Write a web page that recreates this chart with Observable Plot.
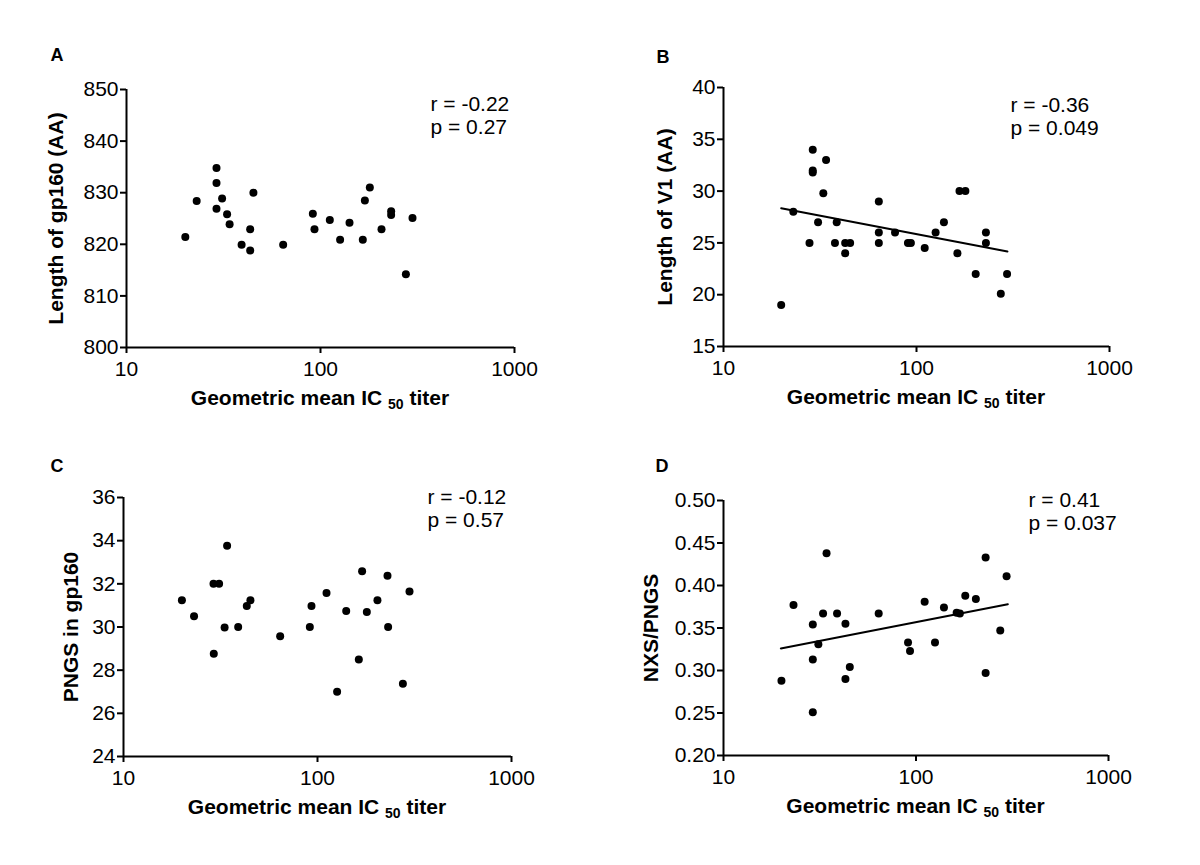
<!DOCTYPE html>
<html><head><meta charset="utf-8">
<script src="https://cdn.jsdelivr.net/npm/d3@7"></script>
<script src="https://cdn.jsdelivr.net/npm/@observablehq/plot@0.6"></script>
<style>
body{margin:0;background:#fff;}
#wrap{position:relative;width:1200px;height:865px;overflow:hidden;background:#fff;}
.panel{position:absolute;}
</style></head><body><div id="wrap"></div>
<script>
// ---------- data ----------
const xTicks = [10, 100, 1000];

const titerA = [20.1,23.0,29.1,29.1,29.1,31.1,33.0,34.0,39.2,43.4,43.4,45.1,64.2,91.3,93.1,111.7,126.2,141.1,165.2,169.3,179.6,206.3,231.3,231.3,275.5,298];
const lengthGp160 = [821.4,828.4,834.8,831.9,826.9,828.9,825.8,823.9,819.9,822.9,818.8,830.0,819.9,825.9,822.9,824.7,820.9,824.2,820.9,828.5,831.0,822.9,826.4,825.7,814.2,825.1];
const ticksA = [800,810,820,830,840,850];

const titerB = [19.9,23.0,27.9,29.0,29.0,29.0,30.9,32.9,34.0,37.8,38.6,42.7,42.7,45.3,63.8,63.8,63.8,77.4,90.3,93.5,110.3,125.6,138.7,162.9,167,179.2,202.6,228.9,228.9,273.4,294.6];
const lengthV1 = [19,28,25,34,32,31.8,27,29.8,33,25,27,24,25,25,29,26,25,26,25,25,24.5,26,27,24,30,30,22,26,25,20.1,22];
const ticksB = [15,20,25,30,35,40];
const fitBx = [19.9, 296];
const fitBy = [28.35, 24.16];

const titerC = [20.0,23.1,29.1,31.1,29.2,34.2,33.2,39.0,43.2,45.1,64.2,91.3,93.1,111.3,126.2,140.6,163.3,169.8,179.6,203.7,229.5,231.2,275.5,298];
const pngs = [31.24,30.5,32.0,32.0,28.76,33.77,29.98,30.0,30.97,31.24,29.57,30.0,30.97,31.58,27.0,30.74,28.5,32.58,30.7,31.24,32.38,30.0,27.37,31.64];
const ticksC = [24,26,28,30,32,34,36];

const titerD = [20.0,23.1,29.1,29.1,29.1,31.1,32.9,34.3,38.9,43.0,43.0,45.3,64.0,90.9,93.1,110.9,125.5,139.7,162.6,169,180.3,204.6,230,230,274,295.5];
const nxsRatio = [0.288,0.377,0.354,0.313,0.251,0.331,0.367,0.438,0.367,0.355,0.290,0.304,0.367,0.333,0.323,0.381,0.333,0.374,0.368,0.367,0.388,0.384,0.433,0.297,0.347,0.411];
const ticksD = [0.20,0.25,0.30,0.35,0.40,0.45,0.50];
const fitDx = [19.85, 300];
const fitDy = [0.326, 0.378];

const letters = ["A","B","C","D"];
const rTexts = ["r = -0.22","r = -0.36","r = -0.12","r = 0.41"];
const pTexts = ["p = 0.27","p = 0.049","p = 0.57","p = 0.037"];
const yTitles = ["Length of gp160 (AA)","Length of V1 (AA)","PNGS in gp160","NXS/PNGS"];

// ---------- drawing ----------
const FONT = '"Liberation Sans", Arial, Helvetica, sans-serif';
const zip = (xs, ys) => xs.map((x, i) => ({x, y: ys[i]}));

function panel(o) {
  const w = 600;
  const marks = [
    Plot.axisX({ticks: xTicks, tickFormat: d => String(d), tickSize: 6, tickPadding: 8, strokeWidth: 2, label: null, fontSize: 21}),
    Plot.axisY({ticks: o.yTicks, tickFormat: o.yFormat, tickSize: 6, tickPadding: 2, strokeWidth: 2, label: null, fontSize: 21}),
    Plot.ruleX([xTicks[0]], {strokeWidth: 2}),
    Plot.ruleY([o.yTicks[0]], {strokeWidth: 2}),
    Plot.dot(o.data, {x: "x", y: "y", r: 4, fill: "#000", stroke: null}),
    Plot.text([o.r + "\n" + o.p], {frameAnchor: "top-left", textAnchor: "start", lineAnchor: "top", dx: o.tdx, dy: o.tdy, fontSize: 21, lineHeight: 1.1}),
    Plot.text([o.letter], {frameAnchor: "top-left", textAnchor: "start", lineAnchor: "top", dx: o.ldx, dy: o.ldy, fontSize: 18, fontWeight: "bold"}),
    Plot.text([o.ytitle], {frameAnchor: "left", rotate: -90, dx: -o.ytdx, textAnchor: "middle", lineAnchor: "middle", fontSize: 21, fontWeight: "bold"})
  ];
  if (o.fit) marks.push(Plot.line(o.fit, {x: "x", y: "y", strokeWidth: 2, stroke: "#000"}));
  const svg = Plot.plot({
    width: w, height: o.height,
    marginLeft: o.ml, marginRight: o.mr, marginTop: o.mt, marginBottom: o.mb,
    style: {fontFamily: FONT, fontSize: "21px", color: "#000", background: "transparent", overflow: "visible"},
    x: {type: "log", domain: [10, 1000]},
    y: {domain: [o.yTicks[0], o.yTicks[o.yTicks.length - 1]]},
    marks
  });
  // x-axis title with subscript
  const cx = o.ml + (w - o.ml - o.mr) / 2;
  const t = d3.select(svg).append("text")
    .attr("x", cx).attr("y", o.height - o.mb + 58)
    .attr("text-anchor", "middle").attr("font-weight", "bold")
    .attr("font-size", 21).attr("font-family", FONT).attr("fill", "#000");
  t.append("tspan").text("Geometric mean IC ");
  t.append("tspan").attr("font-size", 14).attr("dy", 4).text("50");
  t.append("tspan").attr("dy", -4).text(" titer");
  const div = document.createElement("div");
  div.className = "panel";
  div.style.left = o.left + "px";
  div.style.top = o.top + "px";
  div.appendChild(svg);
  document.getElementById("wrap").appendChild(div);
}

panel({left: 0, top: 0, height: 432, ml: 126, mr: 86, mt: 89, mb: 85,
  data: zip(titerA, lengthGp160), yTicks: ticksA, yFormat: d => String(d),
  r: rTexts[0], p: pTexts[0], tdx: 304, tdy: 5, letter: letters[0], ldx: -76, ldy: -41,
  ytitle: yTitles[0], ytdx: 70});

panel({left: 600, top: 0, height: 432, ml: 123, mr: 91, mt: 87, mb: 86,
  data: zip(titerB, lengthV1), yTicks: ticksB, yFormat: d => String(d),
  fit: zip(fitBx, fitBy),
  r: rTexts[1], p: pTexts[1], tdx: 287, tdy: 8, letter: letters[1], ldx: -67, ldy: -37,
  ytitle: yTitles[1], ytdx: 58});

panel({left: 0, top: 432, height: 433, ml: 123, mr: 89, mt: 65, mb: 109,
  data: zip(titerC, pngs), yTicks: ticksC, yFormat: d => String(d),
  r: rTexts[2], p: pTexts[2], tdx: 304, tdy: -10, letter: letters[2], ldx: -73, ldy: -38,
  ytitle: yTitles[2], ytdx: 52});

panel({left: 600, top: 432, height: 433, ml: 123, mr: 92, mt: 68, mb: 110,
  data: zip(titerD, nxsRatio), yTicks: ticksD, yFormat: d3.format(".2f"),
  fit: zip(fitDx, fitDy),
  r: rTexts[3], p: pTexts[3], tdx: 305, tdy: -10, letter: letters[3], ldx: -68, ldy: -41,
  ytitle: yTitles[3], ytdx: 72});
</script>
</body></html>
